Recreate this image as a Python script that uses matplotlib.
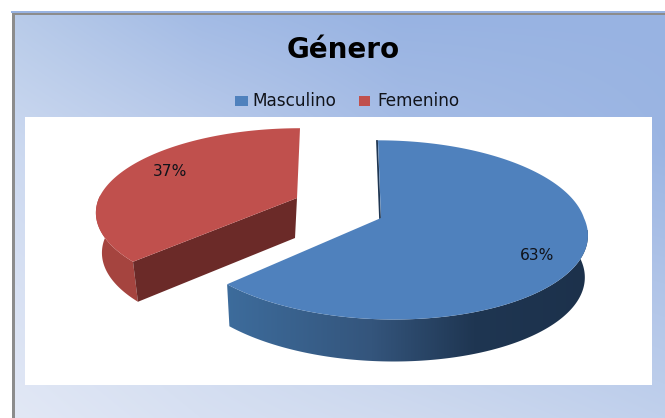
import numpy as np
import matplotlib
matplotlib.use("Agg")
import matplotlib.pyplot as plt
from matplotlib.colors import LinearSegmentedColormap, to_rgb
from matplotlib.patches import Polygon, Rectangle

TITLE = "Género"
CATEGORIES = ["Masculino", "Femenino"]
PERCENT = [63, 37]

BLUE = "#4f81bd"
RED = "#c0504d"
RED_SIDE = "#a5443f"
RED_CUT = "#6b2a28"

# sampled background colours, rows top to bottom
BG_X = [15, 200, 400, 665]
BG_Y = [15, 149, 284, 418]
BG_COLORS = [
    ["#b8cbe9", "#a3bbe5", "#98b3e2", "#98b3e2"],
    ["#ccd9f0", "#bdcdeb", "#a8bee6", "#9bb5e3"],
    ["#d8e1f3", "#cdd9ef", "#bccdea", "#b0c4e8"],
    ["#e2e8f5", "#d7e0f2", "#cfdaef", "#c0d0ec"],
]


def slice_arc(center, radii, k, shear, start, end, n=200):
    # angles are clockwise from 12 o'clock, k is the perspective of the pie plane
    t = np.radians(np.linspace(start, end, n))
    x, y = np.sin(t), -np.cos(t)
    p = 1.0 / (1.0 - k * y)
    sx = center[0] + radii[0] * x * p + np.where(y < 0, shear[0], shear[1]) * y
    return np.column_stack([sx, center[1] + radii[1] * y * p])


def wall(arc, center, depth, shrink):
    low = np.array(center) + (arc - center) * [shrink, 1.0] + [0, depth]
    return np.vstack([arc, low[::-1]])


fig = plt.figure(figsize=(6.65, 4.18), dpi=100)
ax = fig.add_axes([0, 0, 1, 1])
ax.axis("off")

# background
xs = np.arange(15, 666)
ys = np.arange(15, 419)
rows = np.array([[to_rgb(c) for c in row] for row in BG_COLORS])
bg = np.zeros((len(ys), len(xs), 3))
for ch in range(3):
    by_x = np.array([np.interp(xs, BG_X, rows[i, :, ch]) for i in range(len(BG_Y))])
    for j in range(len(xs)):
        bg[:, j, ch] = np.interp(ys, BG_Y, by_x[:, j])
ax.imshow(bg, extent=(15, 665, 418, 15), aspect="auto", zorder=0)

# frame
ax.add_patch(Rectangle((11, 11), 654, 2, fc="#98b3e2", ec="none", zorder=1))
ax.add_patch(Rectangle((12, 13), 653, 2.2, fc="#8c8c8c", ec="none", zorder=1))
ax.add_patch(Rectangle((12, 13), 3, 405, fc="#8c8c8c", ec="none", zorder=1))

# plot area
ax.add_patch(Rectangle((25, 117), 627, 268, fc="white", ec="none", zorder=1))

ax.text(343.5, 50, TITLE, ha="center", va="center", fontsize=20, fontweight="bold",
        family="DejaVu Sans", color="black", zorder=5)

# legend
ax.add_patch(Rectangle((235, 96), 13, 10, fc=BLUE, ec="none", zorder=5))
ax.add_patch(Rectangle((359, 96), 11, 10, fc=RED, ec="none", zorder=5))
ax.text(252, 101, CATEGORIES[0], ha="left", va="center", fontsize=12.2,
        family="DejaVu Sans", color="#10131a", zorder=5)
ax.text(377, 101, CATEGORIES[1], ha="left", va="center", fontsize=12.2,
        family="DejaVu Sans", color="#10131a", zorder=5)

boundary = PERCENT[0] / sum(PERCENT) * 360

# red slice, pulled out
r_c, r_r, r_k, r_s = (297, 198), (198, 82), 0.175, (-3, 0)
r_arc = slice_arc(r_c, r_r, r_k, r_s, boundary, 360)
r_edge = r_arc[0]
r_side = slice_arc(r_c, r_r, r_k, r_s, boundary, 272)
r_low = np.array(r_c) + (r_edge - r_c) * [0.97, 1.0] + [0, 40]
ax.add_patch(Polygon(wall(r_side, r_c, 40, 0.97), fc=RED_SIDE, ec="none", zorder=2))
ax.add_patch(Polygon([r_edge, r_c, np.add(r_c, [-2, 40]), r_low], fc=RED_CUT, ec="none", zorder=3))
ax.add_patch(Polygon(np.vstack([r_arc, [r_c]]), fc=RED, ec="none", zorder=4))

# blue slice
b_c, b_r, b_k, b_s = (381, 218), (203, 88), 0.133, (3, 13)
b_arc = slice_arc(b_c, b_r, b_k, b_s, 0, boundary)
b_wall = Polygon(wall(slice_arc(b_c, b_r, b_k, b_s, 60, boundary), b_c, 42, 0.985),
                 fc="none", ec="none", zorder=2)
ax.add_patch(b_wall)
wall_cmap = LinearSegmentedColormap.from_list(
    "wall", [(0, "#3d6c9c"), (0.4, "#34557c"), (0.68, "#1f3652"), (1, "#1c314b")]
)
im = ax.imshow(np.linspace(0, 1, 256)[None, :], extent=(226, 590, 370, 230), cmap=wall_cmap,
               aspect="auto", zorder=2)
im.set_clip_path(b_wall)
ax.plot([b_c[0] - 1, b_c[0] - 4], [b_c[1], 141], color="#1f3652", lw=1.3, zorder=3)
ax.add_patch(Polygon(np.vstack([b_arc, [b_c]]), fc=BLUE, ec="none", zorder=4))

# data labels
ax.text(537, 255, f"{PERCENT[0]}%", ha="center", va="center", fontsize=11.2,
        family="DejaVu Sans", color="#10131a", zorder=6)
ax.text(170, 171, f"{PERCENT[1]}%", ha="center", va="center", fontsize=11.2,
        family="DejaVu Sans", color="#10131a", zorder=6)

ax.set_xlim(0, 665)
ax.set_ylim(418, 0)
fig.savefig("out.png", dpi=100)
